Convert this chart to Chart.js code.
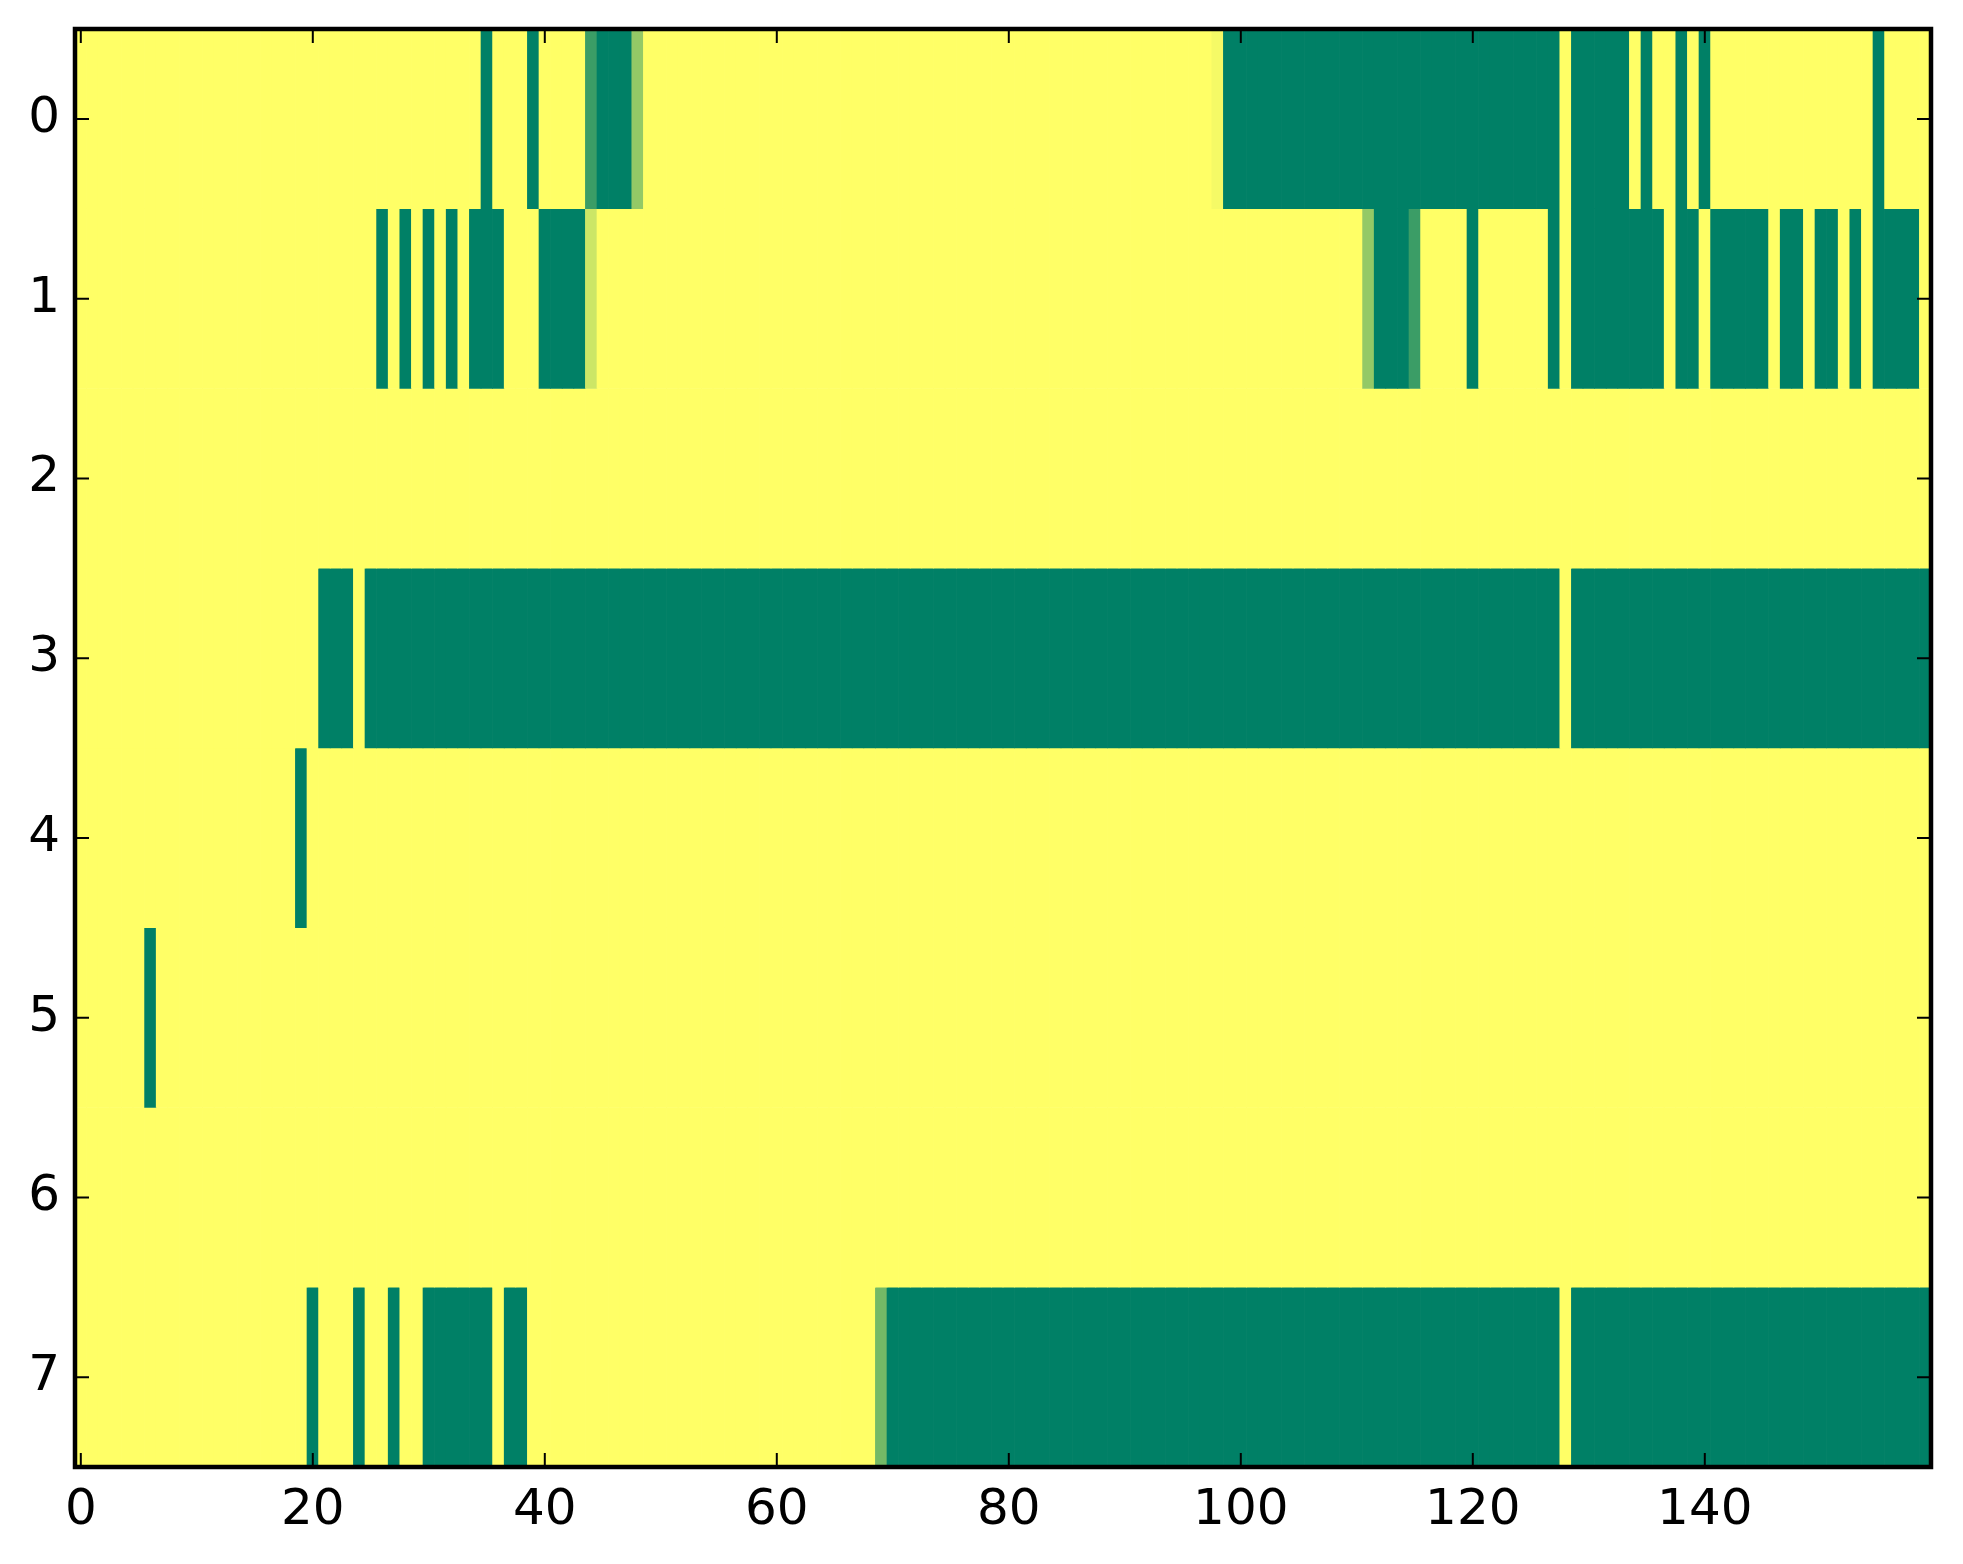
<!DOCTYPE html>
<html>
<head>
<meta charset="utf-8">
<script src="https://cdn.jsdelivr.net/npm/chart.js@4/dist/chart.umd.min.js"></script>
<style>
  html, body { margin: 0; padding: 0; background: #fff; }
  canvas { display: block; }
</style>
</head>
<body>
<canvas id="heat" width="1963" height="1564"></canvas>
<script>
// row labels (top to bottom) and x tick labels
const rowLabels = ['0', '1', '2', '3', '4', '5', '6', '7'];
const xTicks = [0, 20, 40, 60, 80, 100, 120, 140];

// one value per column (0..159); 0 = yellow, 1 = dark green
const row0 = [
  0,0,0,0,0,0,0,0,0,0,0,0,0,0,0,0,0,0,0,0,
  0,0,0,0,0,0,0,0,0,0,0,0,0,0,0,1,0,0,0,1,
  0,0,0,0,0.77,1,1,1,0.42,0,0,0,0,0,0,0,0,0,0,0,
  0,0,0,0,0,0,0,0,0,0,0,0,0,0,0,0,0,0,0,0,
  0,0,0,0,0,0,0,0,0,0,0,0,0,0,0,0,0,0,0.04,1,
  1,1,1,1,1,1,1,1,1,1,1,1,1,1,1,1,1,1,1,1,
  1,1,1,1,1,1,1,1,0,1,1,1,1,1,0,1,0,0,1,0,
  1,0,0,0,0,0,0,0,0,0,0,0,0,0,0,1,0,0,0,0
];
const row1 = [
  0,0,0,0,0,0,0,0,0,0,0,0,0,0,0,0,0,0,0,0,
  0,0,0,0,0,0,1,0,1,0,1,0,1,0,1,1,1,0,0,0,
  1,1,1,1,0.2,0,0,0,0,0,0,0,0,0,0,0,0,0,0,0,
  0,0,0,0,0,0,0,0,0,0,0,0,0,0,0,0,0,0,0,0,
  0,0,0,0,0,0,0,0,0,0,0,0,0,0,0,0,0,0,0,0,
  0,0,0,0,0,0,0,0,0,0,0,0.42,1,1,1,0.77,0,0,0,0,
  1,0,0,0,0,0,0,1,0,1,1,1,1,1,1,1,1,0,1,1,
  0,1,1,1,1,1,0,1,1,0,1,1,0,1,0,1,1,1,1,0
];
const row2 = [
  0,0,0,0,0,0,0,0,0,0,0,0,0,0,0,0,0,0,0,0,
  0,0,0,0,0,0,0,0,0,0,0,0,0,0,0,0,0,0,0,0,
  0,0,0,0,0,0,0,0,0,0,0,0,0,0,0,0,0,0,0,0,
  0,0,0,0,0,0,0,0,0,0,0,0,0,0,0,0,0,0,0,0,
  0,0,0,0,0,0,0,0,0,0,0,0,0,0,0,0,0,0,0,0,
  0,0,0,0,0,0,0,0,0,0,0,0,0,0,0,0,0,0,0,0,
  0,0,0,0,0,0,0,0,0,0,0,0,0,0,0,0,0,0,0,0,
  0,0,0,0,0,0,0,0,0,0,0,0,0,0,0,0,0,0,0,0
];
const row3 = [
  0,0,0,0,0,0,0,0,0,0,0,0,0,0,0,0,0,0,0,0,
  0,1,1,1,0,1,1,1,1,1,1,1,1,1,1,1,1,1,1,1,
  1,1,1,1,1,1,1,1,1,1,1,1,1,1,1,1,1,1,1,1,
  1,1,1,1,1,1,1,1,1,1,1,1,1,1,1,1,1,1,1,1,
  1,1,1,1,1,1,1,1,1,1,1,1,1,1,1,1,1,1,1,1,
  1,1,1,1,1,1,1,1,1,1,1,1,1,1,1,1,1,1,1,1,
  1,1,1,1,1,1,1,1,0,1,1,1,1,1,1,1,1,1,1,1,
  1,1,1,1,1,1,1,1,1,1,1,1,1,1,1,1,1,1,1,1
];
const row4 = [
  0,0,0,0,0,0,0,0,0,0,0,0,0,0,0,0,0,0,0,1,
  0,0,0,0,0,0,0,0,0,0,0,0,0,0,0,0,0,0,0,0,
  0,0,0,0,0,0,0,0,0,0,0,0,0,0,0,0,0,0,0,0,
  0,0,0,0,0,0,0,0,0,0,0,0,0,0,0,0,0,0,0,0,
  0,0,0,0,0,0,0,0,0,0,0,0,0,0,0,0,0,0,0,0,
  0,0,0,0,0,0,0,0,0,0,0,0,0,0,0,0,0,0,0,0,
  0,0,0,0,0,0,0,0,0,0,0,0,0,0,0,0,0,0,0,0,
  0,0,0,0,0,0,0,0,0,0,0,0,0,0,0,0,0,0,0,0
];
const row5 = [
  0,0,0,0,0,0,1,0,0,0,0,0,0,0,0,0,0,0,0,0,
  0,0,0,0,0,0,0,0,0,0,0,0,0,0,0,0,0,0,0,0,
  0,0,0,0,0,0,0,0,0,0,0,0,0,0,0,0,0,0,0,0,
  0,0,0,0,0,0,0,0,0,0,0,0,0,0,0,0,0,0,0,0,
  0,0,0,0,0,0,0,0,0,0,0,0,0,0,0,0,0,0,0,0,
  0,0,0,0,0,0,0,0,0,0,0,0,0,0,0,0,0,0,0,0,
  0,0,0,0,0,0,0,0,0,0,0,0,0,0,0,0,0,0,0,0,
  0,0,0,0,0,0,0,0,0,0,0,0,0,0,0,0,0,0,0,0
];
const row6 = [
  0,0,0,0,0,0,0,0,0,0,0,0,0,0,0,0,0,0,0,0,
  0,0,0,0,0,0,0,0,0,0,0,0,0,0,0,0,0,0,0,0,
  0,0,0,0,0,0,0,0,0,0,0,0,0,0,0,0,0,0,0,0,
  0,0,0,0,0,0,0,0,0,0,0,0,0,0,0,0,0,0,0,0,
  0,0,0,0,0,0,0,0,0,0,0,0,0,0,0,0,0,0,0,0,
  0,0,0,0,0,0,0,0,0,0,0,0,0,0,0,0,0,0,0,0,
  0,0,0,0,0,0,0,0,0,0,0,0,0,0,0,0,0,0,0,0,
  0,0,0,0,0,0,0,0,0,0,0,0,0,0,0,0,0,0,0,0
];
const row7 = [
  0,0,0,0,0,0,0,0,0,0,0,0,0,0,0,0,0,0,0,0,
  1,0,0,0,1,0,0,1,0,0,1,1,1,1,1,1,0,1,1,0,
  0,0,0,0,0,0,0,0,0,0,0,0,0,0,0,0,0,0,0,0,
  0,0,0,0,0,0,0,0,0,0.55,1,1,1,1,1,1,1,1,1,1,
  1,1,1,1,1,1,1,1,1,1,1,1,1,1,1,1,1,1,1,1,
  1,1,1,1,1,1,1,1,1,1,1,1,1,1,1,1,1,1,1,1,
  1,1,1,1,1,1,1,1,0,1,1,1,1,1,1,1,1,1,1,1,
  1,1,1,1,1,1,1,1,1,1,1,1,1,1,1,1,1,1,1,1
];

const rows = [row0, row1, row2, row3, row4, row5, row6, row7];

// matplotlib "summer_r"
function summerR(v) {
  const t = 1 - v;
  return `rgb(${Math.round(255 * t)}, ${Math.round(255 * (0.5 + t / 2))}, 102)`;
}

const datasets = rows.map((vals, r) => ({
  data: vals.map((v, j) => ({ x: [j - 0.5, j + 0.5], y: rowLabels[r], v: v })),
  backgroundColor: ctx => summerR(ctx.raw ? ctx.raw.v : 0),
  borderWidth: 0,
  barPercentage: 1,
  categoryPercentage: 1,
  grouped: false
}));

// matplotlib-style frame with inward ticks on all four sides
const framePlugin = {
  id: 'frame',
  afterDraw(chart) {
    const { ctx, chartArea: a, scales } = chart;
    ctx.save();
    ctx.strokeStyle = '#000';
    ctx.lineWidth = 2;
    ctx.beginPath();
    xTicks.forEach(t => {
      const px = scales.x.getPixelForValue(t);
      ctx.moveTo(px, a.bottom); ctx.lineTo(px, a.bottom - 14);
      ctx.moveTo(px, a.top); ctx.lineTo(px, a.top + 14);
    });
    rowLabels.forEach((l, i) => {
      const py = scales.y.getPixelForValue(i);
      ctx.moveTo(a.left, py); ctx.lineTo(a.left + 14, py);
      ctx.moveTo(a.right, py); ctx.lineTo(a.right - 14, py);
    });
    ctx.stroke();
    ctx.lineWidth = 4.5;
    ctx.strokeRect(a.left, a.top, a.right - a.left, a.bottom - a.top);
    ctx.restore();
  }
};

new Chart(document.getElementById('heat'), {
  type: 'bar',
  data: { labels: rowLabels, datasets: datasets },
  plugins: [framePlugin],
  options: {
    indexAxis: 'y',
    responsive: false,
    devicePixelRatio: 1,
    animation: false,
    layout: { padding: { top: 29, right: 32, left: 0, bottom: 0 } },
    plugins: { legend: { display: false }, tooltip: { enabled: false } },
    scales: {
      x: {
        type: 'linear',
        min: -0.5,
        max: 159.5,
        afterBuildTicks: s => { s.ticks = xTicks.map(v => ({ value: v })); },
        afterFit: s => { s.height = 97; s.paddingLeft = 0; s.paddingRight = 0; },
        grid: { display: false, drawTicks: false },
        border: { display: false },
        ticks: {
          padding: 14,
          color: '#000',
          font: { family: 'DejaVu Sans', size: 50 },
          maxRotation: 0,
          autoSkip: false
        }
      },
      y: {
        type: 'category',
        afterFit: s => { s.width = 75; s.paddingTop = 0; s.paddingBottom = 0; },
        grid: { display: false, drawTicks: false },
        border: { display: false },
        ticks: {
          padding: 15,
          color: '#000',
          font: { family: 'DejaVu Sans', size: 50 }
        }
      }
    }
  }
});
</script>
</body>
</html>
